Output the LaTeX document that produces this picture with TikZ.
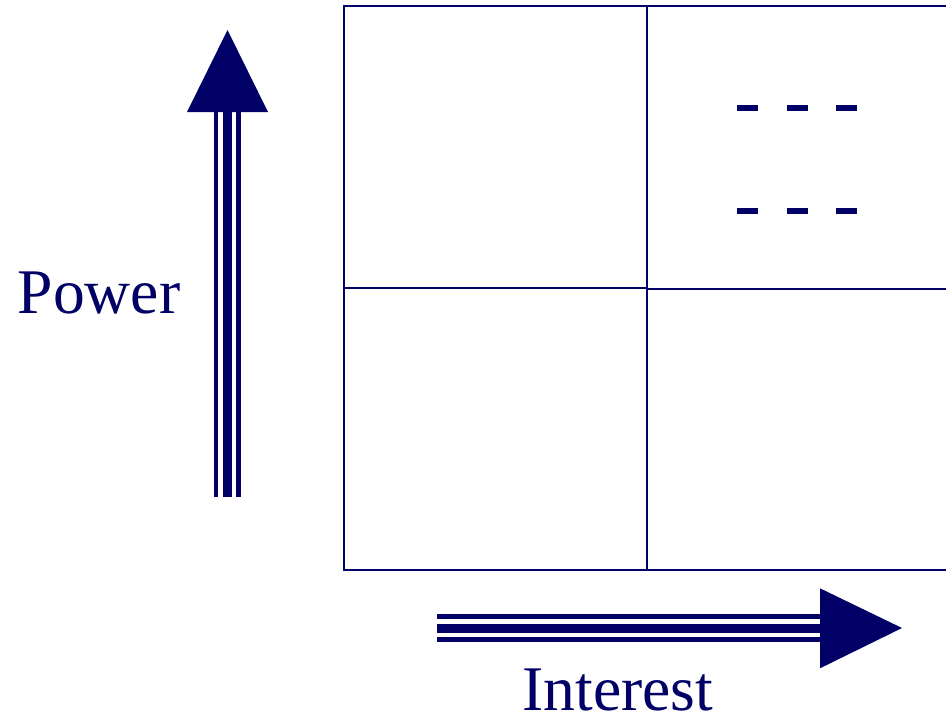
\documentclass[tikz,border=0pt]{standalone}
\usepackage{fontspec}
\setmainfont{Liberation Serif}
\usepackage{tikz}
\usetikzlibrary{arrows.meta, positioning}
\definecolor{marino}{RGB}{0,0,102}

\begin{document}
\begin{tikzpicture}[
  x=0.5pt, y=-0.5pt,
  grid/.style={draw=marino, line width=1pt},
  shaft/.style={draw=marino, line cap=butt},
  head/.style={fill=marino},
  dashmark/.style={draw=marino, line width=3pt},
  axislabel/.style={text=marino, font=\fontsize{31.8}{36}\selectfont, inner sep=0pt, anchor=base},
]
  \useasboundingbox (0,0) rectangle (946,718);

  % matrix of four quadrants
  \coordinate (tl) at (344,6);
  \coordinate (bl) at (344,570);
  \draw[grid] (946,6) -- (tl) -- (bl) -- (946,570);
  \draw[grid] (647,6) -- (647,570);
  \draw[grid] (344,288) -- (647,288);
  \draw[grid] (647,289) -- (946,289);

  % dashes in the top right quadrant
  \foreach \y in {108,211}
    \foreach \x in {737,787,836}
      \draw[dashmark] (\x,\y) -- ++(21,0);

  % vertical arrow
  \coordinate (pbase) at (227.5,497);
  \coordinate (phead) at (227.5,112);
  \coordinate (ptip) at (227.5,30);
  \draw[shaft, line width=2pt] ([xshift=-5.75pt]pbase) -- ([xshift=-5.75pt]phead);
  \draw[shaft, line width=4.5pt] (pbase) -- ([yshift=1pt]phead);
  \draw[shaft, line width=2.5pt] ([xshift=5.5pt]pbase) -- ([xshift=5.5pt]phead);
  \fill[head] (ptip) -- ([xshift=20.25pt]phead) -- ([xshift=-20.25pt]phead) -- cycle;

  % horizontal arrow
  \coordinate (ibase) at (437,628.3);
  \coordinate (ihead) at (820,628.3);
  \coordinate (itip) at (902,628);
  \draw[shaft, line width=2.35pt] ([yshift=5.8pt]ibase) -- ([yshift=5.8pt]ihead);
  \draw[shaft, line width=4.65pt] (ibase) -- ([xshift=1pt]ihead);
  \draw[shaft, line width=2.5pt] ([yshift=-5.6pt]ibase) -- ([yshift=-5.6pt]ihead);
  \fill[head] (itip) -- ([yshift=20pt]ihead) -- ([yshift=-20pt]ihead) -- cycle;

  % labels
  \node[axislabel] (power) at (99,313) {Power};
  \node[axislabel] (interest) at (618,710) {Interest};
\end{tikzpicture}
\end{document}
